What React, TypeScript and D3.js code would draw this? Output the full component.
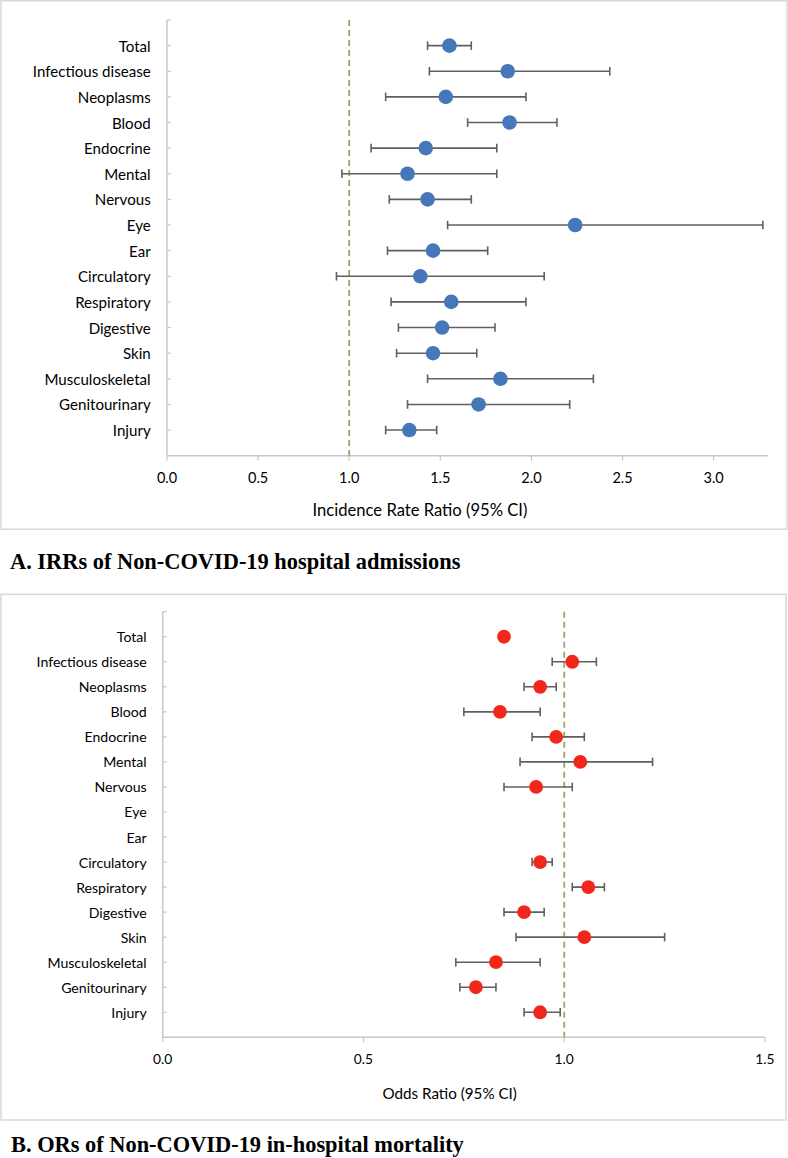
import React from "react";
import * as d3 from "d3";

const categories = [
  "Total", "Infectious disease", "Neoplasms", "Blood", "Endocrine", "Mental",
  "Nervous", "Eye", "Ear", "Circulatory", "Respiratory", "Digestive", "Skin",
  "Musculoskeletal", "Genitourinary", "Injury",
];

// Panel A: Incidence rate ratios
const irrEst = [1.55, 1.87, 1.53, 1.88, 1.42, 1.32, 1.43, 2.24, 1.46, 1.39, 1.56, 1.51, 1.46, 1.83, 1.71, 1.33];
const irrLo = [1.43, 1.44, 1.2, 1.65, 1.12, 0.96, 1.22, 1.54, 1.21, 0.93, 1.23, 1.27, 1.26, 1.43, 1.32, 1.2];
const irrHi = [1.67, 2.43, 1.97, 2.14, 1.81, 1.81, 1.67, 3.27, 1.76, 2.07, 1.97, 1.8, 1.7, 2.34, 2.21, 1.48];
const irrTicks = [0, 0.5, 1.0, 1.5, 2.0, 2.5, 3.0];

// Panel B: Odds ratios (null = not estimated)
const orEst = [0.85, 1.02, 0.94, 0.84, 0.98, 1.04, 0.93, null, null, 0.94, 1.06, 0.9, 1.05, 0.83, 0.78, 0.94];
const orLo = [null, 0.97, 0.9, 0.75, 0.92, 0.89, 0.85, null, null, 0.92, 1.02, 0.85, 0.88, 0.73, 0.74, 0.9];
const orHi = [null, 1.08, 0.98, 0.94, 1.05, 1.22, 1.02, null, null, 0.97, 1.1, 0.95, 1.25, 0.94, 0.83, 0.99];
const orTicks = [0, 0.5, 1.0, 1.5];

const FONT = "Lato, 'Open Sans', sans-serif";

type PanelProps = {
  frame: { x: number; y: number; w: number; h: number };
  left: number; right: number; top: number; bottom: number;
  xMax: number; ticks: number[];
  est: (number | null)[]; lo: (number | null)[]; hi: (number | null)[];
  color: string; r: number;
  labelX: number; labelSize: number;
  tickLabelY: number; tickSize: number;
  axisTitle: string; axisTitleX: number; axisTitleY: number; axisTitleSize: number;
  title: string; titleX: number; titleY: number;
};

function Panel(p: PanelProps) {
  const x = d3.scaleLinear().domain([0, p.xMax]).range([p.left, p.right]);
  const n = categories.length;
  const y = d3.scaleLinear().domain([n + 1, 0]).range([p.top, p.bottom]);
  const yPos = (i: number) => y(n - i);
  const yTicks = d3.range(1, n + 2);
  const axisColor = "#c8c8c8";
  return (
    <g>
      <rect x={p.frame.x} y={p.frame.y} width={p.frame.w} height={p.frame.h} fill="#fff" stroke="#d9d9d9" strokeWidth={1.5} />
      {/* y axis */}
      <line x1={p.left} x2={p.left} y1={p.top} y2={p.bottom} stroke={axisColor} strokeWidth={1.5} />
      {yTicks.map((t) => (
        <line key={"yt" + t} x1={p.left} x2={p.left + 4} y1={y(t)} y2={y(t)} stroke={axisColor} strokeWidth={1.2} />
      ))}
      {/* x axis */}
      <line x1={p.left} x2={p.right} y1={p.bottom} y2={p.bottom} stroke={axisColor} strokeWidth={1.5} />
      {p.ticks.map((t) => (
        <g key={"xt" + t}>
          <line x1={x(t)} x2={x(t)} y1={p.bottom} y2={p.bottom + 5} stroke={axisColor} strokeWidth={1.2} />
          <text x={x(t)} y={p.tickLabelY} textAnchor="middle" dominantBaseline="central" fontFamily={FONT} fontSize={p.tickSize} fill="#000">
            {t.toFixed(1)}
          </text>
        </g>
      ))}
      {/* category labels */}
      {categories.map((c, i) => (
        <text key={c} x={p.labelX} y={yPos(i)} textAnchor="end" dominantBaseline="central" fontFamily={FONT} fontSize={p.labelSize} fill="#000">
          {c}
        </text>
      ))}
      {/* reference line */}
      <line x1={x(1)} x2={x(1)} y1={p.top} y2={p.bottom} stroke="#9ba56b" strokeWidth={1.8} strokeDasharray="6,4" />
      {/* error bars */}
      {categories.map((c, i) => {
        const l = p.lo[i], h = p.hi[i];
        if (l == null || h == null) return null;
        const yy = yPos(i);
        return (
          <g key={"eb" + c} stroke="#5f5f5f" strokeWidth={1.6}>
            <line x1={x(l)} x2={x(h)} y1={yy} y2={yy} />
            <line x1={x(l)} x2={x(l)} y1={yy - 4.3} y2={yy + 4.3} />
            <line x1={x(h)} x2={x(h)} y1={yy - 4.3} y2={yy + 4.3} />
          </g>
        );
      })}
      {/* points */}
      {categories.map((c, i) => {
        const v = p.est[i];
        if (v == null) return null;
        return <circle key={"pt" + c} cx={x(v)} cy={yPos(i)} r={p.r} fill={p.color} />;
      })}
      <text x={p.axisTitleX} y={p.axisTitleY} textAnchor="middle" dominantBaseline="central" fontFamily={FONT} fontSize={p.axisTitleSize} fill="#000">
        {p.axisTitle}
      </text>
      <text x={p.titleX} y={p.titleY} fontFamily="'Liberation Serif', 'Times New Roman', serif" fontWeight="bold" fontSize={22.4} fill="#000">
        {p.title}
      </text>
    </g>
  );
}

export default function App() {
  return (
    <div style={{ position: "absolute", left: 0, top: 0 }}>
      <svg width={788} height={1158} style={{ display: "block", background: "#fff" }}>
        <Panel
          frame={{ x: 1, y: 0.75, w: 786, h: 528.5 }}
          left={167} right={768.3} top={20} bottom={455.7}
          xMax={3.3} ticks={irrTicks}
          est={irrEst} lo={irrLo} hi={irrHi}
          color="#4677b8" r={7.3}
          labelX={150.7} labelSize={15.1}
          tickLabelY={477.7} tickSize={14.5}
          axisTitle="Incidence Rate Ratio (95% CI)" axisTitleX={420} axisTitleY={510} axisTitleSize={16.6}
          title="A. IRRs of Non-COVID-19 hospital admissions" titleX={10} titleY={569}
        />
        <Panel
          frame={{ x: 1, y: 594.3, w: 785, h: 525.7 }}
          left={162.7} right={765} top={611.7} bottom={1037.3}
          xMax={1.5} ticks={orTicks}
          est={orEst} lo={orLo} hi={orHi}
          color="#f2261b" r={6.9}
          labelX={146.7} labelSize={14.1}
          tickLabelY={1058.3} tickSize={13.8}
          axisTitle="Odds Ratio (95% CI)" axisTitleX={449.7} axisTitleY={1093.3} axisTitleSize={15.2}
          title="B. ORs of Non-COVID-19 in-hospital mortality" titleX={11} titleY={1152}
        />
      </svg>
    </div>
  );
}
